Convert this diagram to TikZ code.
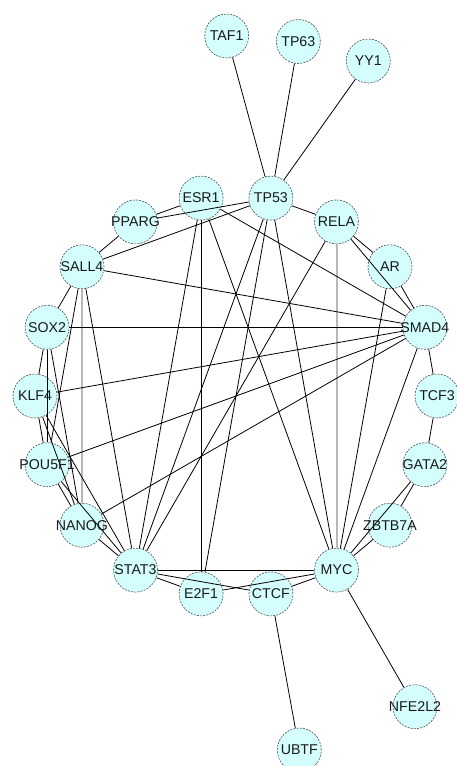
\documentclass[tikz,border=0pt]{standalone}
\usepackage{fontspec}
\setmainfont{Liberation Sans}
\definecolor{nodefill}{RGB}{212,253,253}
\definecolor{nodeline}{RGB}{80,80,80}
\begin{document}
\begin{tikzpicture}[x=1pt,y=-1pt,
  gn/.style={circle,minimum size=44pt,inner sep=0pt,fill=nodefill,draw=nodeline,line width=0.6pt,dash pattern=on 2pt off 1.2pt},
  lbl/.style={font=\fontsize{14.2}{14.2}\selectfont,inner sep=0pt,text=black!90},
  edge/.style={draw=black,line width=0.8pt},
  grayedge/.style={draw=black!28,line width=2pt}]
\useasboundingbox (0,0) rectangle (457,766);
% outer nodes
\node[gn] (TAF1) at (226.7,36) {};
\node[gn] (TP63) at (298.3,41.5) {};
\node[gn] (YY1) at (368.3,61) {};
\node[gn] (NFE2L2) at (415,706.7) {};
\node[gn] (UBTF) at (299.3,750) {};
% ring nodes
\node[gn] (TCF3) at (437,396) {};
\node[gn] (SMAD4) at (424.9,327.3) {};
\node[gn] (AR) at (390.0,266.8) {};
\node[gn] (RELA) at (336.5,221.9) {};
\node[gn] (TP53) at (270.9,198.1) {};
\node[gn] (ESR1) at (201.1,198.1) {};
\node[gn] (PPARG) at (135.5,221.9) {};
\node[gn] (SALL4) at (82.0,266.8) {};
\node[gn] (SOX2) at (47.1,327.3) {};
\node[gn] (KLF4) at (35,396) {};
\node[gn] (POU5F1) at (47.1,464.7) {};
\node[gn] (NANOG) at (82.0,525.2) {};
\node[gn] (STAT3) at (135.5,570.1) {};
\node[gn] (E2F1) at (201.1,593.9) {};
\node[gn] (CTCF) at (270.9,593.9) {};
\node[gn] (MYC) at (336.5,570.1) {};
\node[gn] (ZBTB7A) at (390.0,525.2) {};
\node[gn] (GATA2) at (424.9,464.7) {};
% gray edges
\draw[grayedge] (SALL4) -- (NANOG);
\draw[grayedge] (RELA) -- (MYC);
% black edges
\draw[edge] (TAF1) -- (TP53);
\draw[edge] (TP63) -- (TP53);
\draw[edge] (YY1) -- (TP53);
\draw[edge] (MYC) -- (NFE2L2);
\draw[edge] (CTCF) -- (UBTF);
\draw[edge] (TP53) -- (PPARG);
\draw[edge] (TP53) -- (SALL4);
\draw[edge] (TP53) -- (RELA);
\draw[edge] (TP53) -- (STAT3);
\draw[edge] (TP53) -- (E2F1);
\draw[edge] (TP53) -- (MYC);
\draw[edge] (ESR1) -- (PPARG);
\draw[edge] (ESR1) -- (SMAD4);
\draw[edge] (ESR1) -- (STAT3);
\draw[edge] (ESR1) -- (E2F1);
\draw[edge] (ESR1) -- (MYC);
\draw[edge] (PPARG) -- (SALL4);
\draw[edge] (SALL4) -- (SOX2);
\draw[edge] (SALL4) -- (SMAD4);
\draw[edge] (SALL4) -- (POU5F1);
\draw[edge] (SALL4) -- (STAT3);
\draw[edge] (SOX2) -- (SMAD4);
\draw[edge] (SOX2) -- (KLF4);
\draw[edge] (SOX2) -- (POU5F1);
\draw[edge] (SOX2) -- (NANOG);
\draw[edge] (KLF4) -- (SMAD4);
\draw[edge] (KLF4) -- (POU5F1);
\draw[edge] (KLF4) -- (NANOG);
\draw[edge] (KLF4) -- (STAT3);
\draw[edge] (POU5F1) -- (SMAD4);
\draw[edge] (POU5F1) -- (NANOG);
\draw[edge] (POU5F1) -- (STAT3);
\draw[edge] (NANOG) -- (SMAD4);
\draw[edge] (NANOG) -- (STAT3);
\draw[edge] (STAT3) -- (E2F1);
\draw[edge] (STAT3) -- (CTCF);
\draw[edge] (STAT3) -- (MYC);
\draw[edge] (STAT3) -- (RELA);
\draw[edge] (E2F1) -- (MYC);
\draw[edge] (CTCF) -- (MYC);
\draw[edge] (MYC) -- (ZBTB7A);
\draw[edge] (MYC) -- (GATA2);
\draw[edge] (MYC) -- (AR);
\draw[edge] (MYC) -- (SMAD4);
\draw[edge] (ZBTB7A) -- (GATA2);
\draw[edge] (GATA2) -- (TCF3);
\draw[edge] (TCF3) -- (SMAD4);
\draw[edge] (SMAD4) -- (AR);
\draw[edge] (SMAD4) -- (RELA);
\draw[edge] (RELA) -- (AR);
% labels
\node[lbl] (tTAF1) at (TAF1) {TAF1};
\node[lbl] (tTP63) at (TP63) {TP63};
\node[lbl] (tYY1) at (YY1) {YY1};
\node[lbl] (tNFE2L2) at (NFE2L2) {NFE2L2};
\node[lbl] (tUBTF) at (UBTF) {UBTF};
\node[lbl] (tTCF3) at (TCF3) {TCF3};
\node[lbl] (tSMAD4) at (SMAD4) {SMAD4};
\node[lbl] (tAR) at (AR) {AR};
\node[lbl] (tRELA) at (RELA) {RELA};
\node[lbl] (tTP53) at (TP53) {TP53};
\node[lbl] (tESR1) at (ESR1) {ESR1};
\node[lbl] (tPPARG) at (PPARG) {PPARG};
\node[lbl] (tSALL4) at (SALL4) {SALL4};
\node[lbl] (tSOX2) at (SOX2) {SOX2};
\node[lbl] (tKLF4) at (KLF4) {KLF4};
\node[lbl] (tPOU5F1) at (POU5F1) {POU5F1};
\node[lbl] (tNANOG) at (NANOG) {NANOG};
\node[lbl] (tSTAT3) at (STAT3) {STAT3};
\node[lbl] (tE2F1) at (E2F1) {E2F1};
\node[lbl] (tCTCF) at (CTCF) {CTCF};
\node[lbl] (tMYC) at (MYC) {MYC};
\node[lbl] (tZBTB7A) at (ZBTB7A) {ZBTB7A};
\node[lbl] (tGATA2) at (GATA2) {GATA2};
\end{tikzpicture}
\end{document}
